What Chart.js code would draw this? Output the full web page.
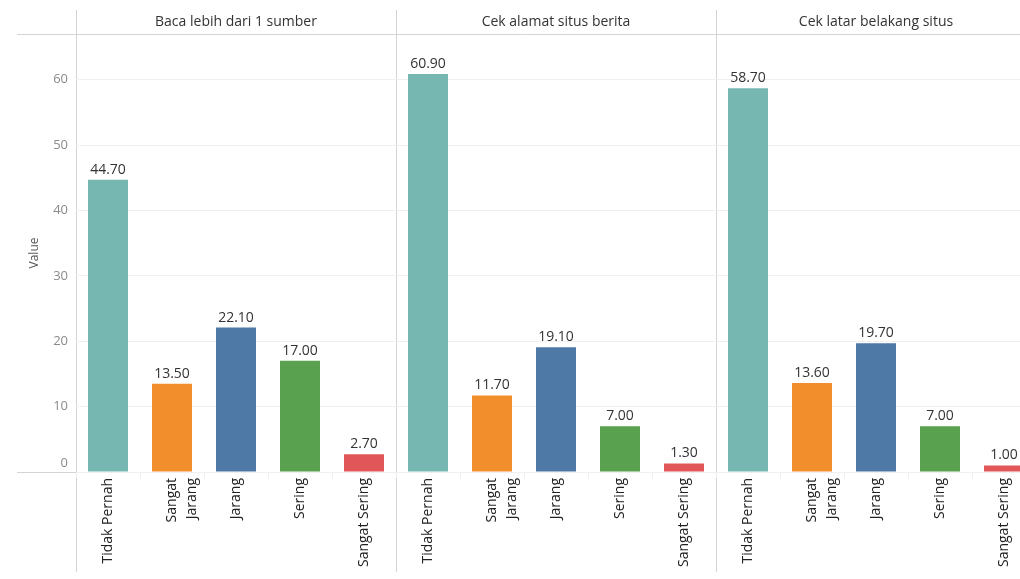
<!DOCTYPE html>
<html>
<head>
<meta charset="utf-8">
<script src="https://cdn.jsdelivr.net/npm/chart.js@4"></script>
<style>
  html, body { margin: 0; padding: 0; background: #fff; overflow: hidden; }
  #wrap { width: 1036px; height: 579px; }
</style>
</head>
<body>
<div id="wrap"><canvas id="chart" width="1036" height="579"></canvas></div>
<script>
// data
const groups = ['Baca lebih dari 1 sumber', 'Cek alamat situs berita', 'Cek latar belakang situs'];
const categories = ['Tidak Pernah', ['Sangat', 'Jarang'], 'Jarang', 'Sering', 'Sangat Sering'];
const bacaValues = [44.7, 13.5, 22.1, 17.0, 2.7];
const alamatValues = [60.9, 11.7, 19.1, 7.0, 1.3];
const latarValues = [58.7, 13.6, 19.7, 7.0, 1.0];
const yTicks = [0, 10, 20, 30, 40, 50, 60];
const colors = ['#76b7b2', '#f28e2b', '#4e79a7', '#59a14f', '#e15759'];

const labels = [];
const values = [];
const barColors = [];
[bacaValues, alamatValues, latarValues].forEach(arr => {
    arr.forEach((v, i) => {
        labels.push(categories[i]);
        values.push(v);
        barColors.push(colors[i]);
    });
});

const FONT = "'Open Sans', 'DejaVu Sans', sans-serif";

// panel lines, headers, value labels, y labels
const facetPlugin = {
    id: 'facet',
    beforeDraw(chart) {
        const ctx = chart.ctx;
        const area = chart.chartArea;
        const x = chart.scales.x;
        const band = x.getPixelForValue(1) - x.getPixelForValue(0);
        ctx.save();
        ctx.strokeStyle = '#d4d4d4';
        ctx.lineWidth = 1;
        ctx.beginPath();
        for (let g = 0; g < groups.length; g++) {
            const px = Math.round(x.getPixelForValue(g * categories.length) - band / 2) + 0.5;
            ctx.moveTo(px, 10);
            ctx.lineTo(px, 572);
        }
        ctx.moveTo(17, Math.round(area.top) + 0.5);
        ctx.lineTo(chart.width, Math.round(area.top) + 0.5);
        ctx.moveTo(17, Math.round(area.bottom) + 0.5);
        ctx.lineTo(chart.width, Math.round(area.bottom) + 0.5);
        ctx.stroke();
        ctx.restore();
    },
    afterDraw(chart) {
        const ctx = chart.ctx;
        const area = chart.chartArea;
        const x = chart.scales.x;
        const y = chart.scales.y;
        const band = x.getPixelForValue(1) - x.getPixelForValue(0);
        ctx.save();
        // headers
        ctx.fillStyle = '#333';
        ctx.font = '14px ' + FONT;
        ctx.textAlign = 'center';
        ctx.textBaseline = 'middle';
        groups.forEach((g, i) => {
            const start = x.getPixelForValue(i * categories.length) - band / 2;
            ctx.fillText(g, start + band * categories.length / 2, 22);
        });
        // value labels
        const meta = chart.getDatasetMeta(0);
        ctx.font = '14px ' + FONT;
        ctx.textBaseline = 'bottom';
        meta.data.forEach((bar, i) => {
            ctx.fillText(values[i].toFixed(2), bar.x, bar.y - 3);
        });
        // y tick labels
        ctx.fillStyle = '#8a8a8a';
        ctx.font = '13px ' + FONT;
        ctx.textAlign = 'right';
        ctx.textBaseline = 'middle';
        y.ticks.forEach(t => {
            let py = y.getPixelForValue(t.value);
            if (t.value === 0) py -= 9;
            ctx.fillText(String(t.value), 68, py);
        });
        // axis title
        ctx.fillStyle = '#555';
        ctx.font = '12px ' + FONT;
        ctx.translate(35, (area.top + area.bottom) / 2);
        ctx.rotate(-Math.PI / 2);
        ctx.textAlign = 'center';
        ctx.fillText('Value', 0, 0);
        ctx.restore();
    }
};

new Chart(document.getElementById('chart'), {
    type: 'bar',
    data: {
        labels: labels,
        datasets: [{
            data: values,
            backgroundColor: barColors,
            borderWidth: 0,
            categoryPercentage: 1,
            barPercentage: 0.625
        }]
    },
    options: {
        responsive: false,
        animation: false,
        layout: { padding: { top: 34, left: 0, right: 0, bottom: 0 } },
        plugins: {
            legend: { display: false },
            tooltip: { enabled: false }
        },
        scales: {
            x: {
                offset: true,
                grid: {
                    offset: true,
                    drawOnChartArea: false,
                    drawTicks: true,
                    tickLength: 6,
                    color: '#eeeeee'
                },
                border: { display: false },
                ticks: {
                    autoSkip: false,
                    minRotation: 90,
                    maxRotation: 90,
                    padding: 0,
                    color: '#222',
                    font: { family: FONT, size: 14, lineHeight: 1.45 }
                },
                afterFit(scale) {
                    scale.height = 107;
                    scale.paddingLeft = 0;
                    scale.paddingRight = 0;
                }
            },
            y: {
                min: 0,
                max: 67,
                afterBuildTicks(scale) {
                    scale.ticks = yTicks.map(v => ({ value: v }));
                },
                grid: {
                    color: '#f0f0f0',
                    drawTicks: false
                },
                border: { display: false },
                ticks: { display: false },
                afterFit(scale) {
                    scale.width = 76;
                }
            }
        }
    },
    plugins: [facetPlugin]
});
</script>
</body>
</html>
